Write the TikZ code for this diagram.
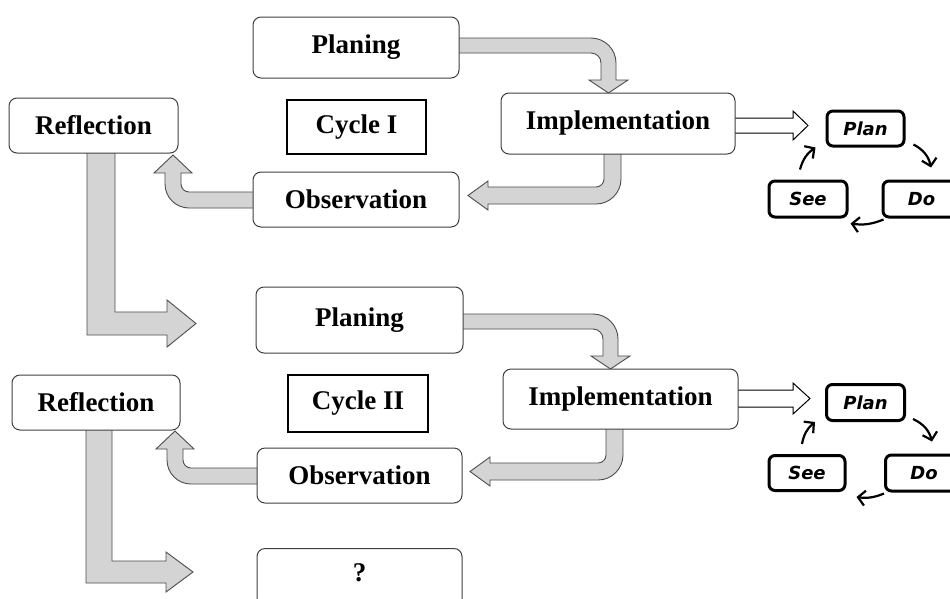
\documentclass[tikz,border=0pt]{standalone}
\usepackage{fontspec}
\setmainfont{Liberation Serif}
\newfontfamily\pdcfont{DejaVu Sans}
\usetikzlibrary{arrows.meta,calc}
\pgfdeclarelayer{bg}
\pgfdeclarelayer{paper}
\pgfsetlayers{paper,bg,main}
\begin{document}
\begin{tikzpicture}[x=1pt,y=-1pt,
 box/.style={draw=black!75, line width=1pt, rounded corners=8pt, fill=white, inner sep=0pt,
   font=\fontsize{27}{30}\selectfont\bfseries},
 cyclebox/.style={draw=black, line width=1.8pt, fill=white, inner sep=0pt,
   font=\fontsize{27}{30}\selectfont\bfseries},
 pdc/.style={draw=black, line width=3pt, rounded corners=6pt, fill=white, inner sep=0pt,
   font=\pdcfont\bfseries\itshape\fontsize{18}{20}\selectfont},
 garrow/.style={fill=black!17, draw=black!70, line width=0.9pt, line join=miter},
 harrow/.style={fill=white, draw=black, line width=1pt},
 cyc/.style={line width=2.2pt, -{Straight Barb[length=7pt,width=15pt]}}
]
\clip (0,0) rectangle (950,598);
\begin{pgfonlayer}{paper}
\fill[white] (0,0) rectangle (950,598);
\end{pgfonlayer}

% ---------- Cycle I ----------
\node[box, minimum width=206pt, minimum height=61pt] (pl1) at (356,47.5) {Planing};
\node[cyclebox, minimum width=139pt, minimum height=54pt] (c1) at (356.5,127) {Cycle I};
\node[box, minimum width=234pt, minimum height=61pt] (im1) at (618,123.5) {Implementation};
\node[box, minimum width=206pt, minimum height=55pt] (ob1) at (356,199.5) {Observation};
\node[box, minimum width=169pt, minimum height=55pt] (re1) at (93.5,125.5) {Reflection};

\node[pdc, minimum width=77pt, minimum height=35pt] (p1) at (865.5,128.5) {Plan};
\node[pdc, minimum width=78pt, minimum height=36pt] (s1) at (808,199) {See};
\node[pdc, minimum width=77pt, minimum height=36pt] (d1) at (921.5,199) {Do};
\draw[cyc] ($(p1.south east)+(8,-3)$) to[bend left=25] ($(d1.north)+(9.5,-12)$);
\draw[cyc] ($(d1.south west)+(2,1)$) to[bend left=15] ($(s1.south east)+(2,5)$);
\draw[cyc] ($(s1.north)+(-8,-10)$) to[bend left=20] ($(p1.south west)+(-10,0)$);

% ---------- Cycle II ----------
\node[box, minimum width=207pt, minimum height=66pt] (pl2) at (359.5,320) {Planing};
\node[cyclebox, minimum width=140pt, minimum height=57pt] (c2) at (358,403.5) {Cycle II};
\node[box, minimum width=235pt, minimum height=60pt] (im2) at (620.5,399) {Implementation};
\node[box, minimum width=205pt, minimum height=55pt] (ob2) at (359.5,475.5) {Observation};
\node[box, minimum width=168pt, minimum height=55pt] (re2) at (96,402.5) {Reflection};
\node[box, minimum width=205pt, minimum height=80pt, anchor=north] (q) at (359.5,548) {};
\node[font=\fontsize{27}{30}\selectfont\bfseries, inner sep=0pt] (qt) at (359.5,573) {?};

\node[pdc, minimum width=78pt, minimum height=36pt] (p2) at (865.5,402.5) {Plan};
\node[pdc, minimum width=76pt, minimum height=35pt] (s2) at (807,473) {See};
\node[pdc, minimum width=77pt, minimum height=36pt] (d2) at (924,473) {Do};
\draw[cyc] ($(p2.south east)+(7,-3)$) to[bend left=25] ($(d2.north)+(8,-12)$);
\draw[cyc] ($(d2.south west)+(0,1)$) to[bend left=15] ($(s2.south east)+(10,5)$);
\draw[cyc] ($(s2.north)+(-5,-10)$) to[bend left=20] ($(p2.south west)+(-10,0)$);

% ---------- block arrows ----------
\begin{pgfonlayer}{bg}
 % cycle I
 \draw[garrow] (450,38) -- (591,38) arc[start angle=90,end angle=0,radius=25pt]
   -- (616,80) -- (628,80) -- (608.5,93) -- (589,80) -- (601,80) -- (601,63)
   arc[start angle=0,end angle=90,radius=10pt] -- (450,53) -- cycle;
 \draw[garrow] (604,140) -- (604,179) arc[start angle=0,end angle=-90,radius=8pt]
   -- (488,187) -- (488,181) -- (468,195.5) -- (488,210) -- (488,204) -- (596,204)
   arc[start angle=-90,end angle=0,radius=25pt] -- (621,140) -- cycle;
 \draw[garrow] (265,192) -- (189,192) arc[start angle=-90,end angle=-180,radius=8pt]
   -- (181,173) -- (192,173) -- (173,155) -- (154,173) -- (165,173) -- (165,184)
   arc[start angle=180,end angle=270,radius=24pt] -- (265,208) -- cycle;
 \draw[garrow] (87,140) -- (87,335) -- (167,335) -- (167,347) -- (196,323.5)
   -- (167,300) -- (167,312) -- (115,312) -- (115,140) -- cycle;
 \draw[harrow] (725,118) -- (793,118) -- (793,111) -- (808,125.5) -- (793,140)
   -- (793,133) -- (725,133) -- cycle;
 % cycle II
 \begin{scope}[shift={(2,276)}]
 \draw[garrow] (450,38) -- (591,38) arc[start angle=90,end angle=0,radius=25pt]
   -- (616,80) -- (628,80) -- (608.5,93) -- (589,80) -- (601,80) -- (601,63)
   arc[start angle=0,end angle=90,radius=10pt] -- (450,53) -- cycle;
 \draw[garrow] (604,140) -- (604,179) arc[start angle=0,end angle=-90,radius=8pt]
   -- (488,187) -- (488,181) -- (468,195.5) -- (488,210) -- (488,204) -- (596,204)
   arc[start angle=-90,end angle=0,radius=25pt] -- (621,140) -- cycle;
 \draw[garrow] (265,192) -- (189,192) arc[start angle=-90,end angle=-180,radius=8pt]
   -- (181,173) -- (192,173) -- (173,155) -- (154,173) -- (165,173) -- (165,184)
   arc[start angle=180,end angle=270,radius=24pt] -- (265,208) -- cycle;
 \end{scope}
 \draw[garrow] (86,420) -- (86,583) -- (166,583) -- (166,592) -- (193,572)
   -- (166,552) -- (166,561) -- (112,561) -- (112,420) -- cycle;
 \draw[harrow] (728,390) -- (793,390) -- (793,383) -- (810,398.5) -- (793,414)
   -- (793,407) -- (728,407) -- cycle;
\end{pgfonlayer}
\end{tikzpicture}
\end{document}
